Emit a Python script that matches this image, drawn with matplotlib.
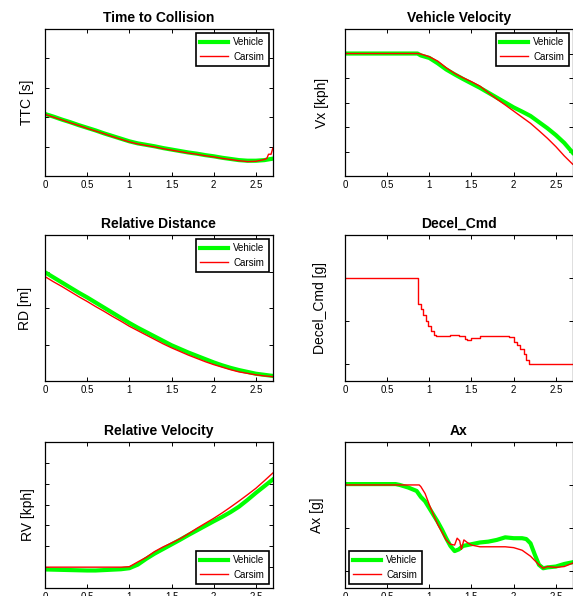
import numpy as np
import matplotlib
matplotlib.use('Agg')
import matplotlib.pyplot as plt

plt.rcParams['font.family'] = ['Liberation Sans', 'DejaVu Sans']

# time base (s), read every 0.1 s
t = [0.0, 0.1, 0.2, 0.3, 0.4, 0.5, 0.6, 0.7, 0.8, 0.9,
     1.0, 1.1, 1.2, 1.3, 1.4, 1.5, 1.6, 1.7, 1.8, 1.9,
     2.0, 2.1, 2.2, 2.3, 2.4, 2.5, 2.6, 2.7]

# Time to collision [s]
ttc_veh = [2.11, 2.02, 1.92, 1.83, 1.73, 1.64, 1.55, 1.45, 1.36, 1.27,
           1.18, 1.11, 1.06, 1.01, 0.95, 0.90, 0.85, 0.80, 0.76, 0.71,
           0.67, 0.62, 0.58, 0.54, 0.52, 0.52, 0.54, 0.59]
t_ttc_cs = [0.0, 0.1, 0.2, 0.3, 0.4, 0.5, 0.6, 0.7, 0.8, 0.9,
            1.0, 1.1, 1.2, 1.3, 1.4, 1.5, 1.6, 1.7, 1.8, 1.9,
            2.0, 2.1, 2.2, 2.3, 2.4, 2.5, 2.6, 2.63, 2.65, 2.68, 2.7]
ttc_cs = [2.10, 2.00, 1.91, 1.81, 1.72, 1.62, 1.53, 1.44, 1.34, 1.25,
          1.16, 1.09, 1.04, 0.99, 0.93, 0.88, 0.83, 0.78, 0.74, 0.69,
          0.65, 0.60, 0.56, 0.52, 0.49, 0.50, 0.56, 0.60, 0.74, 0.74, 0.94]

# Vehicle velocity [kph]
t_vx = [0.0, 0.5, 0.86, 0.9, 1.0, 1.1, 1.2, 1.3, 1.4, 1.5,
        1.6, 1.7, 1.8, 1.9, 2.0, 2.1, 2.2, 2.3, 2.4, 2.5,
        2.6, 2.7]
vx_veh = [50.0, 50.0, 50.0, 49.2, 48.2, 46.0, 43.5, 41.5, 39.6, 37.8,
          36.0, 34.0, 32.0, 30.0, 28.0, 26.3, 24.5, 22.0, 19.5, 16.7,
          13.5, 9.5]
vx_cs = [50.0, 50.0, 50.0, 49.8, 48.7, 46.9, 44.2, 41.9, 40.1, 38.5,
         36.7, 34.0, 31.4, 29.0, 26.5, 24.0, 21.5, 18.5, 15.4, 12.0,
         8.2, 4.8]

# Relative distance [m]
rd_veh = [29.8, 28.4, 27.0, 25.6, 24.2, 22.9, 21.5, 20.1, 18.7, 17.3,
          15.9, 14.6, 13.4, 12.2, 11.0, 9.8, 8.8, 7.8, 6.9, 6.0,
          5.1, 4.3, 3.6, 3.0, 2.5, 2.0, 1.7, 1.4]
rd_cs = [28.6, 27.2, 25.9, 24.5, 23.1, 21.8, 20.4, 19.1, 17.7, 16.4,
         15.0, 13.8, 12.6, 11.4, 10.2, 9.1, 8.1, 7.1, 6.2, 5.3,
         4.5, 3.8, 3.1, 2.5, 2.1, 1.7, 1.4, 1.2]

# Decel command [g]
t_dec = [0.0, 0.86, 0.87, 0.90, 0.93, 0.96, 0.99, 1.02, 1.05, 1.08,
         1.15, 1.25, 1.35, 1.42, 1.45, 1.50, 1.60, 1.70, 1.80, 1.90,
         1.95, 2.00, 2.04, 2.08, 2.12, 2.15, 2.18, 2.70]
dec_cmd = [0.0, 0.0, -0.30, -0.36, -0.43, -0.50, -0.56, -0.62, -0.66, -0.68,
           -0.68, -0.67, -0.68, -0.71, -0.72, -0.70, -0.68, -0.68, -0.68, -0.68,
           -0.69, -0.74, -0.78, -0.83, -0.88, -0.95, -1.0, -1.0]

# Relative velocity [kph]
rv_veh = [-51.1, -51.2, -51.3, -51.4, -51.5, -51.6, -51.6, -51.4, -51.2, -51.0,
          -50.5, -48.8, -46.0, -43.5, -41.3, -39.1, -36.9, -34.6, -32.4, -30.2,
          -28.0, -25.9, -23.6, -21.0, -17.8, -14.4, -11.2, -8.0]
rv_cs = [-50.0, -50.0, -50.0, -50.0, -50.0, -50.0, -50.0, -50.0, -50.0, -50.0,
         -49.8, -47.5, -45.3, -42.5, -40.3, -38.4, -36.4, -34.0, -31.4, -29.0,
         -26.6, -24.0, -21.2, -18.3, -15.3, -12.2, -8.6, -4.9]

# Longitudinal acceleration [g]
t_ax_veh = [0.0, 0.2, 0.4, 0.6, 0.65, 0.75, 0.85, 0.9, 0.95, 1.0,
            1.05, 1.1, 1.15, 1.2, 1.25, 1.3, 1.35, 1.4, 1.5, 1.6,
            1.7, 1.8, 1.9, 2.0, 2.1, 2.15, 2.2, 2.25, 2.3, 2.35,
            2.4, 2.5, 2.6, 2.7]
ax_veh = [0.01, 0.01, 0.01, 0.01, 0.0, -0.03, -0.07, -0.14, -0.19, -0.27,
          -0.35, -0.43, -0.52, -0.62, -0.71, -0.77, -0.75, -0.71, -0.69, -0.67,
          -0.66, -0.64, -0.61, -0.62, -0.62, -0.63, -0.68, -0.81, -0.93, -0.97,
          -0.96, -0.95, -0.92, -0.90]
t_ax_cs = [0.0, 0.88, 0.9, 0.95, 1.0, 1.05, 1.1, 1.15, 1.2, 1.25,
           1.3, 1.33, 1.36, 1.38, 1.41, 1.45, 1.5, 1.6, 1.7, 1.8,
           1.9, 2.0, 2.1, 2.2, 2.25, 2.3, 2.35, 2.4, 2.5, 2.6, 2.7]
ax_cs = [0.0, 0.0, -0.02, -0.10, -0.23, -0.35, -0.46, -0.55, -0.64, -0.69,
         -0.70, -0.62, -0.65, -0.75, -0.64, -0.67, -0.70, -0.72, -0.72, -0.72,
         -0.72, -0.73, -0.76, -0.83, -0.88, -0.93, -0.97, -0.95, -0.96, -0.95, -0.91]

GREEN = '#00ff00'
RED = '#ff0000'

fig = plt.figure(figsize=(5.73, 5.96), dpi=100)

# [left, bottom, width, height] in figure fraction
pos = {
    'ttc': [0.0785, 0.7047, 0.3975, 0.2466],
    'vx': [0.602, 0.7047, 0.3975, 0.2466],
    'rd': [0.0785, 0.3607, 0.3975, 0.2450],
    'dec': [0.602, 0.3607, 0.3975, 0.2450],
    'rv': [0.0785, 0.0134, 0.3975, 0.2450],
    'ax': [0.602, 0.0134, 0.3975, 0.2450],
}


def style(ax, title, ylab, ylim, yticks, labx):
    ax.set_xlim(0, 2.7)
    ax.set_xticks([0, 0.5, 1, 1.5, 2, 2.5])
    ax.set_xticklabels(['0', '0.5', '1', '1.5', '2', '2.5'])
    ax.set_ylim(ylim)
    ax.set_yticks(yticks)
    ax.tick_params(direction='in', top=True, right=True, length=3, width=0.7,
                   labelsize=7, labelleft=False, pad=3)
    for s in ax.spines.values():
        s.set_linewidth(0.9)
    ax.set_title(title, fontsize=10, fontweight='bold', pad=5)
    ax.set_ylabel(ylab, fontsize=10)
    ax.yaxis.set_label_coords(labx, 0.5)


def add_legend(ax, loc):
    leg = ax.legend(loc=loc, fontsize=7, fancybox=False, framealpha=1,
                    edgecolor='black', handlelength=2.9, borderaxespad=0.4,
                    labelspacing=0.45, handletextpad=0.5, borderpad=0.45)
    leg.get_frame().set_linewidth(1.2)


ax1 = fig.add_axes(pos['ttc'])
ax1.plot(t, ttc_veh, color=GREEN, lw=3, label='Vehicle')
ax1.plot(t_ttc_cs, ttc_cs, color=RED, lw=1, label='Carsim')
style(ax1, 'Time to Collision', 'TTC [s]', (0, 5), [0, 1, 2, 3, 4, 5], -0.047)
add_legend(ax1, 'upper right')

ax2 = fig.add_axes(pos['vx'])
ax2.plot(t_vx, vx_veh, color=GREEN, lw=3, label='Vehicle')
ax2.plot(t_vx, vx_cs, color=RED, lw=1, label='Carsim')
style(ax2, 'Vehicle Velocity', 'Vx [kph]', (0, 60), [0, 10, 20, 30, 40, 50, 60], -0.072)
add_legend(ax2, 'upper right')

ax3 = fig.add_axes(pos['rd'])
ax3.plot(t, rd_veh, color=GREEN, lw=3, label='Vehicle')
ax3.plot(t, rd_cs, color=RED, lw=1, label='Carsim')
style(ax3, 'Relative Distance', 'RD [m]', (0, 40), [0, 10, 20, 30, 40], -0.057)
add_legend(ax3, 'upper right')

ax4 = fig.add_axes(pos['dec'])
ax4.plot(t_dec, dec_cmd, color=RED, lw=1, drawstyle='steps-post')
style(ax4, 'Decel_Cmd', 'Decel_Cmd [g]', (-1.2, 0.5), [-1, -0.5, 0, 0.5], -0.077)

ax5 = fig.add_axes(pos['rv'])
ax5.plot(t, rv_veh, color=GREEN, lw=3, label='Vehicle')
ax5.plot(t, rv_cs, color=RED, lw=1, label='Carsim')
style(ax5, 'Relative Velocity', 'RV [kph]', (-60, 10),
      [-60, -50, -40, -30, -20, -10, 0, 10], -0.042)
add_legend(ax5, 'lower right')

ax6 = fig.add_axes(pos['ax'])
ax6.plot(t_ax_veh, ax_veh, color=GREEN, lw=3, label='Vehicle')
ax6.plot(t_ax_cs, ax_cs, color=RED, lw=1, label='Carsim')
style(ax6, 'Ax', 'Ax [g]', (-1.2, 0.5), [-1, -0.5, 0, 0.5], -0.092)
add_legend(ax6, 'lower left')

fig.savefig('out.png', dpi=100)
